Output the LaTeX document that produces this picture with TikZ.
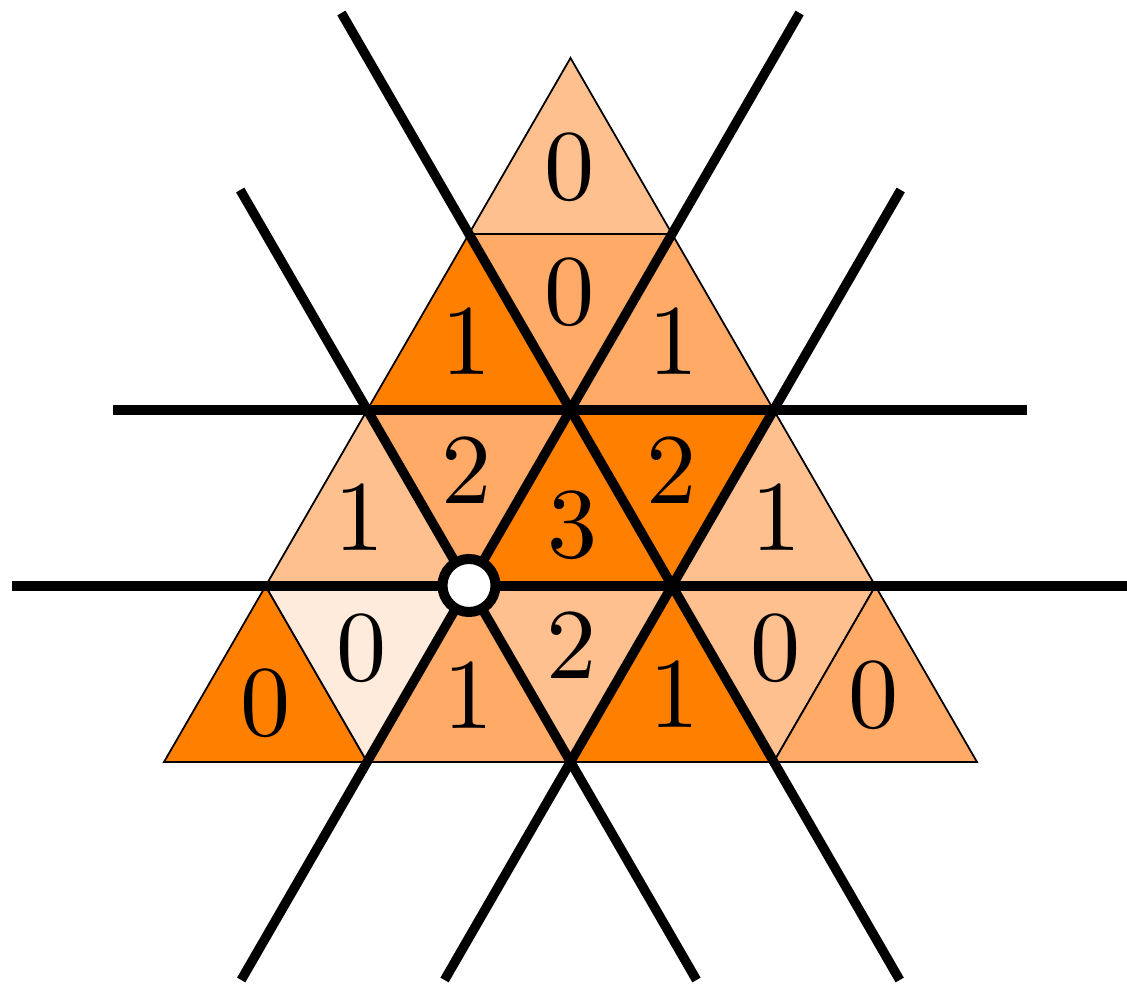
\documentclass[tikz,border=0pt]{standalone}
\usepackage{xcolor}
\usepackage{graphicx}
\definecolor{cdark}{HTML}{FF7F00}
\definecolor{cmed}{HTML}{FFAA66}
\definecolor{clight}{HTML}{FFC08F}
\definecolor{cvlight}{HTML}{FFEBDB}
\newcommand{\bignum}[1]{\scalebox{2.85}{#1}}
\begin{document}
\begin{tikzpicture}[x=0.01cm,y=-0.01cm,
  tri/.style={draw=black,line width=0.5pt,line join=miter},
  bigline/.style={draw=black,line width=2.7pt},
  lab/.style={inner sep=0pt},
  hole/.style={draw=black,fill=white,line width=2.85pt}]
\useasboundingbox (0,0) rectangle (1127,986);
% grid vertices
\coordinate (v00) at (570.5,58);
\coordinate (v10) at (468.9,234); \coordinate (v11) at (672.1,234);
\coordinate (v20) at (367.2,410); \coordinate (v21) at (570.5,410); \coordinate (v22) at (773.7,410);
\coordinate (v30) at (265.6,586); \coordinate (v31) at (468.9,586); \coordinate (v32) at (672.1,586); \coordinate (v33) at (875.4,586);
\coordinate (v40) at (164,762); \coordinate (v41) at (367.2,762); \coordinate (v42) at (570.5,762); \coordinate (v43) at (773.7,762); \coordinate (v44) at (977,762);
% triangles
\filldraw[tri,fill=clight] (v00)--(v10)--(v11)--cycle;
\filldraw[tri,fill=cdark] (v10)--(v20)--(v21)--cycle;
\filldraw[tri,fill=cmed] (v10)--(v11)--(v21)--cycle;
\filldraw[tri,fill=cmed] (v11)--(v21)--(v22)--cycle;
\filldraw[tri,fill=clight] (v20)--(v30)--(v31)--cycle;
\filldraw[tri,fill=cmed] (v20)--(v21)--(v31)--cycle;
\filldraw[tri,fill=cdark] (v21)--(v31)--(v32)--cycle;
\filldraw[tri,fill=cdark] (v21)--(v22)--(v32)--cycle;
\filldraw[tri,fill=clight] (v22)--(v32)--(v33)--cycle;
\filldraw[tri,fill=cdark] (v30)--(v40)--(v41)--cycle;
\filldraw[tri,fill=cvlight] (v30)--(v31)--(v41)--cycle;
\filldraw[tri,fill=cmed] (v31)--(v41)--(v42)--cycle;
\filldraw[tri,fill=clight] (v31)--(v32)--(v42)--cycle;
\filldraw[tri,fill=cdark] (v32)--(v42)--(v43)--cycle;
\filldraw[tri,fill=clight] (v32)--(v33)--(v43)--cycle;
\filldraw[tri,fill=cmed] (v33)--(v43)--(v44)--cycle;
% labels
\node[lab] (t1) at (570,167) {\bignum{0}};
\node[lab] (t2) at (467,341) {\bignum{1}};
\node[lab] (t3) at (570,292) {\bignum{0}};
\node[lab] (t4) at (674,341) {\bignum{1}};
\node[lab] (t5) at (360,517) {\bignum{1}};
\node[lab] (t6) at (467,470) {\bignum{2}};
\node[lab] (t7) at (573,525) {\bignum{3}};
\node[lab] (t8) at (672,470) {\bignum{2}};
\node[lab] (t9) at (777,517) {\bignum{1}};
\node[lab] (t10) at (266,703) {\bignum{0}};
\node[lab] (t11) at (362,648) {\bignum{0}};
\node[lab] (t12) at (469,695) {\bignum{1}};
\node[lab] (t13) at (572,645) {\bignum{2}};
\node[lab] (t14) at (675,694) {\bignum{1}};
\node[lab] (t15) at (776,648) {\bignum{0}};
\node[lab] (t16) at (874,695) {\bignum{0}};
% line end points
\coordinate (a1) at (341.4,13); \coordinate (a2) at (899.7,980);
\coordinate (b1) at (799.6,13); \coordinate (b2) at (241.2,980);
\coordinate (c1) at (240.2,190); \coordinate (c2) at (696.5,980);
\coordinate (d1) at (900.7,190); \coordinate (d2) at (444.5,980);
\coordinate (h1) at (113,410); \coordinate (h2) at (1027,410);
\coordinate (g1) at (12,586); \coordinate (g2) at (1127,586);
\draw[bigline] (a1) -- (a2);
\draw[bigline] (b1) -- (b2);
\draw[bigline] (c1) -- (c2);
\draw[bigline] (d1) -- (d2);
\draw[bigline] (h1) -- (h2);
\draw[bigline] (g1) -- (g2);
% hole
\node[hole,circle,minimum size=0.53cm,inner sep=0pt] (o) at (469,585.5) {};
\end{tikzpicture}
\end{document}
